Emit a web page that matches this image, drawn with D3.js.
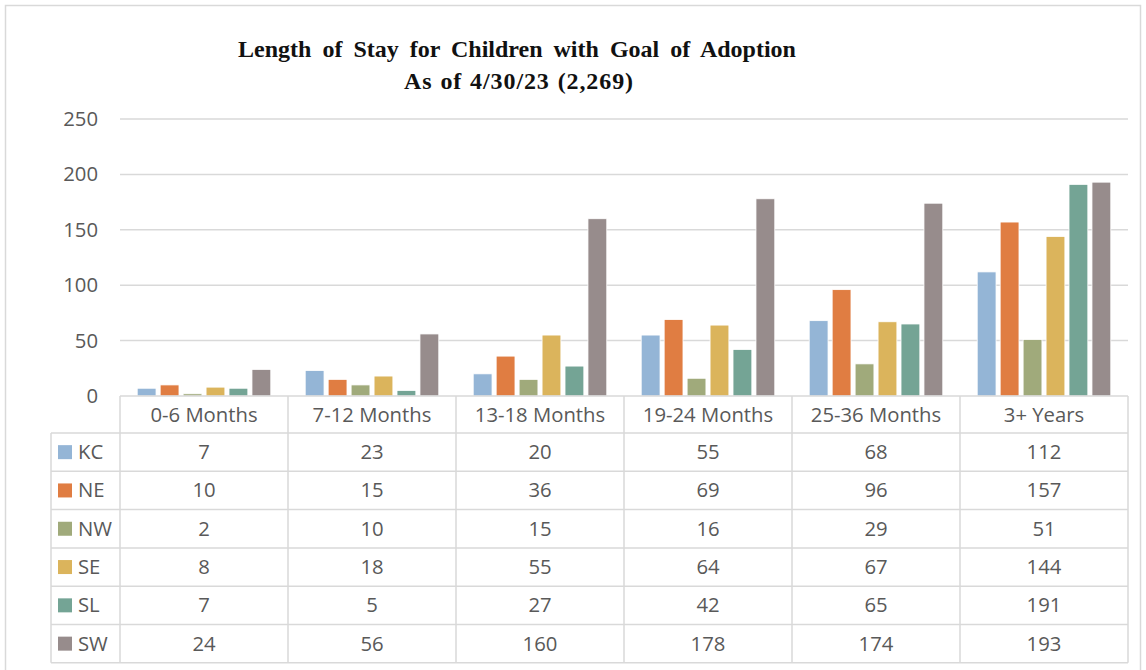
<!DOCTYPE html>
<html><head><meta charset="utf-8">
<script src="https://cdn.jsdelivr.net/npm/d3@7"></script>
<style>body{margin:0;background:#fff;} svg{display:block;}</style>
</head><body>
<script>
const categories = ["0-6 Months","7-12 Months","13-18 Months","19-24 Months","25-36 Months","3+ Years"];
const seriesNames = ["KC","NE","NW","SE","SL","SW"];
const KC = [7,23,20,55,68,112];
const NE = [10,15,36,69,96,157];
const NW = [2,10,15,16,29,51];
const SE = [8,18,55,64,67,144];
const SL = [7,5,27,42,65,191];
const SW = [24,56,160,178,174,193];
const yTicks = [0,50,100,150,200,250];
const colors = ["#94b5d6","#e07d42","#a0aa7b","#dbb45c","#74a495","#978c8c"];
const series = [KC,NE,NW,SE,SL,SW];

(function(){
const W=1146,H=670;
const svg=d3.select("body").append("svg").attr("width",W).attr("height",H);
svg.append("rect").attr("x",5.5).attr("y",5.5).attr("width",1135).attr("height",670).attr("fill","#fff").attr("stroke","#d9d9d9").attr("stroke-width",1.5);

const pL=120,pR=1128,pT=119,pB=396;
const x=d3.scaleBand().domain(categories).range([pL,pR]);
const xs=d3.scaleBand().domain(seriesNames).range([0,x.bandwidth()]).paddingInner(0.18).paddingOuter(0.75);
const y=d3.scaleLinear().domain([0,250]).range([pB,pT]);
const txtFont="Open Sans", txtSize=20.3, txtCol="#595959";

// title
svg.append("text").attr("x",517).attr("y",57).attr("text-anchor","middle")
 .attr("font-family","Liberation Serif").attr("font-weight","bold").attr("font-size",24).attr("fill","#111")
 .attr("word-spacing","5px").text("Length of Stay for Children with Goal of Adoption");
svg.append("text").attr("x",519).attr("y",89).attr("text-anchor","middle")
 .attr("font-family","Liberation Serif").attr("font-weight","bold").attr("font-size",24).attr("fill","#111")
 .attr("letter-spacing","0.9px").attr("word-spacing","1px")
 .text("As of 4/30/23 (2,269)");

// gridlines
svg.append("g").selectAll("line").data(yTicks.filter(d=>d>0)).join("line")
 .attr("x1",pL).attr("x2",pR).attr("y1",d=>y(d)).attr("y2",d=>y(d))
 .attr("stroke","#d9d9d9").attr("stroke-width",1.5);
// y labels
svg.append("g").selectAll("text").data(yTicks).join("text")
 .attr("x",98).attr("y",d=>y(d)+7).attr("text-anchor","end")
 .attr("font-family",txtFont).attr("font-size",txtSize).attr("fill",txtCol).text(d=>d);

// bars
seriesNames.forEach((s,i)=>{
  svg.append("g").selectAll("rect").data(series[i]).join("rect")
   .attr("x",(d,j)=>x(categories[j])+xs(s)).attr("width",xs.bandwidth())
   .attr("y",d=>y(d)).attr("height",d=>pB-y(d))
   .attr("fill",colors[i]).attr("stroke","#fff").attr("stroke-width",0.8);
});

// table
const rowH=38.3, headTop=396, headH=37;
const tableLeft=51;
const gridC="#d9d9d9";
const tg=svg.append("g");
tg.append("line").attr("x1",pL).attr("x2",pR).attr("y1",headTop).attr("y2",headTop).attr("stroke",gridC).attr("stroke-width",1.5);
const rowY=i=>headTop+headH+i*rowH;
for(let i=0;i<=seriesNames.length;i++){
  tg.append("line").attr("x1",tableLeft).attr("x2",pR).attr("y1",rowY(i)).attr("y2",rowY(i)).attr("stroke",gridC).attr("stroke-width",1.5);
}
categories.forEach((c,j)=>{
  tg.append("line").attr("x1",x(c)).attr("x2",x(c)).attr("y1",headTop).attr("y2",rowY(6)).attr("stroke",gridC).attr("stroke-width",1.5);
});
tg.append("line").attr("x1",pR).attr("x2",pR).attr("y1",headTop).attr("y2",rowY(6)).attr("stroke",gridC).attr("stroke-width",1.5);
tg.append("line").attr("x1",tableLeft).attr("x2",tableLeft).attr("y1",rowY(0)).attr("y2",rowY(6)).attr("stroke",gridC).attr("stroke-width",1.5);
tg.selectAll("text.h").data(categories).join("text").attr("class","h")
 .attr("x",d=>x(d)+x.bandwidth()/2).attr("y",headTop+headH/2+7).attr("text-anchor","middle")
 .attr("font-family",txtFont).attr("font-size",txtSize).attr("fill",txtCol).text(d=>d);
seriesNames.forEach((s,i)=>{
  const cy=rowY(i)+rowH/2;
  tg.append("rect").attr("x",58).attr("y",cy-7).attr("width",14).attr("height",14).attr("fill",colors[i]);
  tg.append("text").attr("x",78).attr("y",cy+7).attr("font-family",txtFont).attr("font-size",txtSize).attr("fill",txtCol).text(s);
  tg.selectAll("text.v"+i).data(series[i]).join("text").attr("class","v"+i)
   .attr("x",(d,j)=>x(categories[j])+x.bandwidth()/2).attr("y",cy+7).attr("text-anchor","middle")
   .attr("font-family",txtFont).attr("font-size",txtSize).attr("fill",txtCol).text(d=>d);
});
})();
</script>
</body></html>
